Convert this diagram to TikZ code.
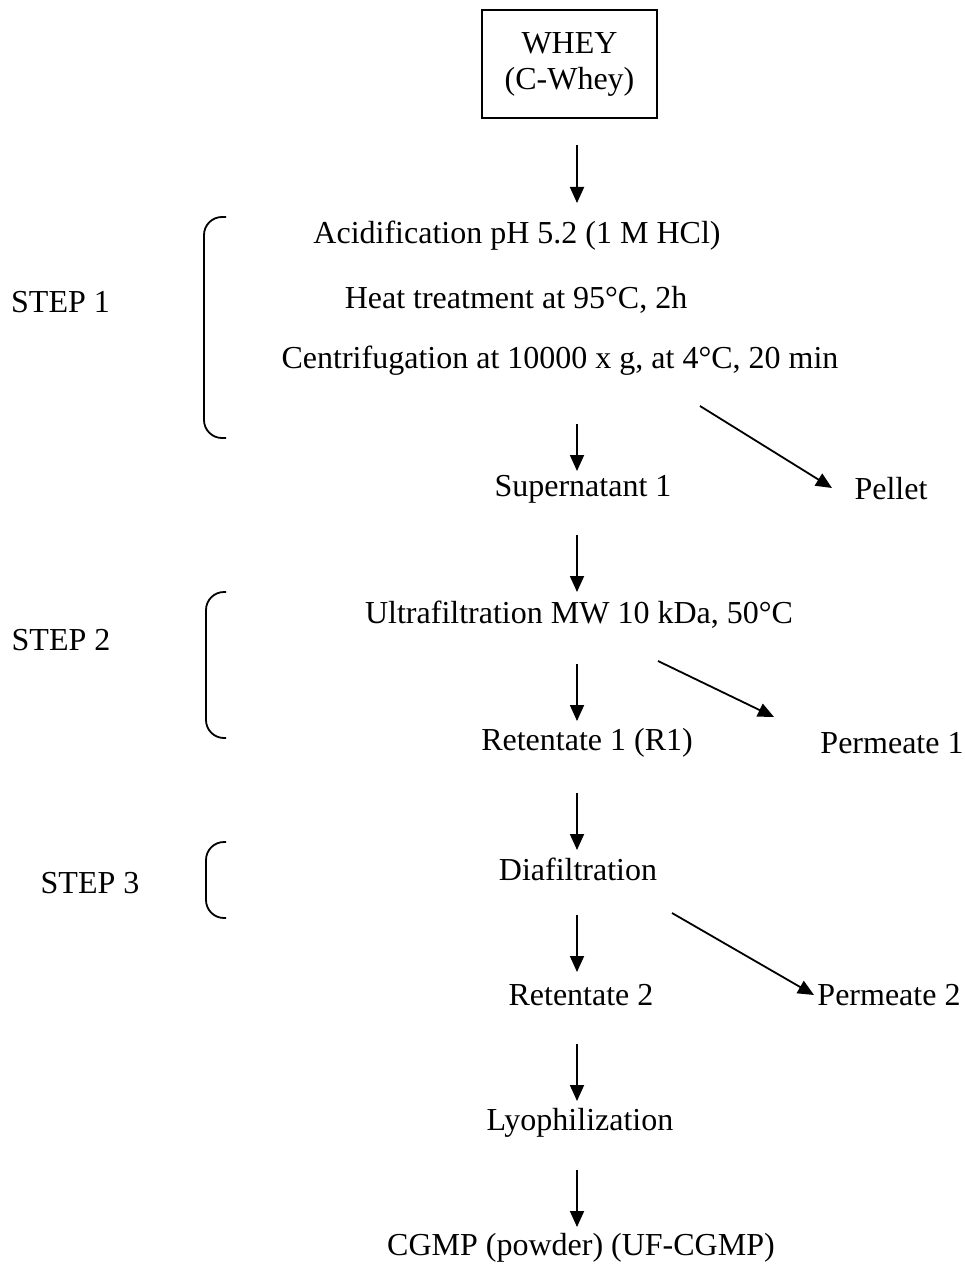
\documentclass[tikz,border=0pt]{standalone}
\usepackage{fontspec}
\setmainfont{Liberation Serif}
\usetikzlibrary{arrows.meta}
\begin{document}
\begin{tikzpicture}[x=1pt,y=-1pt,
  txt/.style={inner sep=0pt,font=\fontsize{32}{36}\selectfont},
  arr/.style={line width=1.8pt,-{Triangle[length=16pt,width=14pt]}},
  brc/.style={line width=1.8pt,rounded corners=18pt},
  boxst/.style={draw,line width=1.6pt,minimum width=175pt,minimum height=108pt,inner sep=0pt,align=center,font=\fontsize{32}{36}\selectfont}]
\useasboundingbox (0,0) rectangle (965,1265);
% nodes
\node[boxst] (whey) at (569.5,64) {WHEY\\(C-Whey)};
\node[txt] (acid) at (517,236) {Acidification pH 5.2 (1 M HCl)};
\node[txt] (heat) at (516,300) {Heat treatment at 95°C, 2h};
\node[txt] (cent) at (560,361) {Centrifugation at 10000 x g, at 4°C, 20 min};
\node[txt] (step1) at (60.5,302) {STEP 1};
\node[txt] (sup) at (583,489) {Supernatant 1};
\node[txt] (pel) at (891,489) {Pellet};
\node[txt] (uf) at (579,615) {Ultrafiltration MW 10 kDa, 50°C};
\node[txt] (step2) at (61,640) {STEP 2};
\node[txt] (ret1) at (587,743) {Retentate 1 (R1)};
\node[txt] (perm1) at (892,743) {Permeate 1};
\node[txt] (dia) at (578,869) {Diafiltration};
\node[txt] (step3) at (90,883) {STEP 3};
\node[txt] (ret2) at (581,995) {Retentate 2};
\node[txt] (perm2) at (889,995) {Permeate 2};
\node[txt] (lyo) at (580,1123) {Lyophilization};
\node[txt] (cgmp) at (581,1248) {CGMP (powder) (UF-CGMP)};
% arrow end points
\coordinate (a1s) at (577,145); \coordinate (a1e) at (577,203);
\coordinate (a2s) at (577,424); \coordinate (a2e) at (577,471);
\coordinate (p1s) at (700,406); \coordinate (p1e) at (832,488);
\coordinate (a3s) at (577,535); \coordinate (a3e) at (577,592);
\coordinate (a4s) at (577,664); \coordinate (a4e) at (577,721);
\coordinate (p2s) at (658,661); \coordinate (p2e) at (774,717);
\coordinate (a5s) at (577,793); \coordinate (a5e) at (577,850);
\coordinate (a6s) at (577,915); \coordinate (a6e) at (577,972);
\coordinate (p3s) at (672,913); \coordinate (p3e) at (814,995);
\coordinate (a7s) at (577,1044); \coordinate (a7e) at (577,1101);
\coordinate (a8s) at (577,1170); \coordinate (a8e) at (577,1227);
\draw[arr] (a1s) -- (a1e);
\draw[arr] (a2s) -- (a2e);
\draw[arr] (p1s) -- (p1e);
\draw[arr] (a3s) -- (a3e);
\draw[arr] (a4s) -- (a4e);
\draw[arr] (p2s) -- (p2e);
\draw[arr] (a5s) -- (a5e);
\draw[arr] (a6s) -- (a6e);
\draw[arr] (p3s) -- (p3e);
\draw[arr] (a7s) -- (a7e);
\draw[arr] (a8s) -- (a8e);
% braces
\draw[brc] (226,217) -- (204,217) -- (204,438) -- (226,438);
\draw[brc] (226,592) -- (206,592) -- (206,738) -- (226,738);
\draw[brc] (226,842) -- (206,842) -- (206,918) -- (226,918);
\end{tikzpicture}
\end{document}
